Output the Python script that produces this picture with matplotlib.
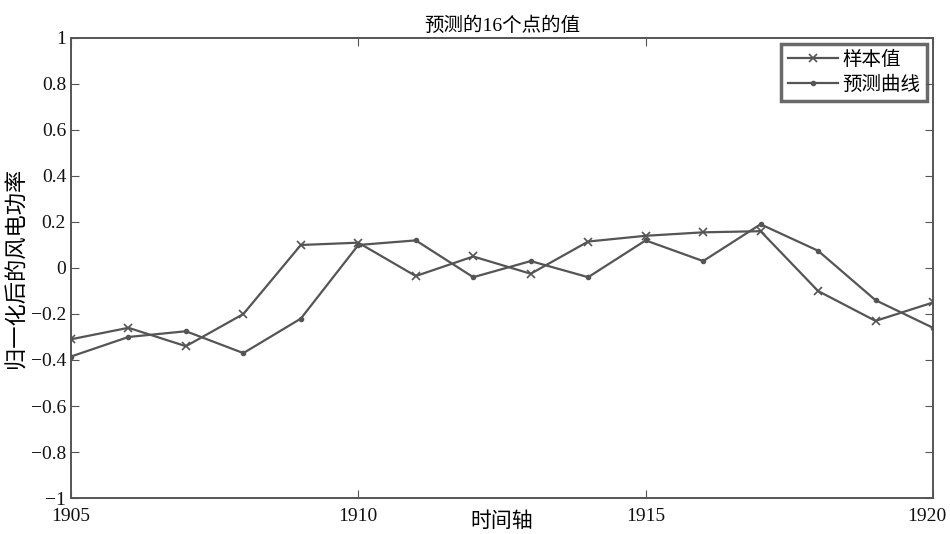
import matplotlib
matplotlib.use("Agg")
import matplotlib.pyplot as plt
import matplotlib.transforms as mtransforms

plt.rcParams['font.family'] = ['Liberation Serif', 'Noto Sans CJK SC']

years = list(range(1905, 1921))
sample = [-0.31, -0.26, -0.34, -0.20, 0.10, 0.11, -0.035, 0.05,
          -0.025, 0.115, 0.14, 0.155, 0.16, -0.10, -0.23, -0.15]
predicted = [-0.385, -0.30, -0.275, -0.37, -0.22, 0.10, 0.12, -0.04,
             0.03, -0.04, 0.12, 0.03, 0.19, 0.075, -0.14, -0.26]

line_color = "#555555"

fig = plt.figure(figsize=(9.5, 5.34), dpi=100)
ax = fig.add_axes([0.0747, 0.0674, 0.9074, 0.8615])

ax.plot(years, sample, color=line_color, linewidth=1.6, marker="x",
        markersize=6, markeredgewidth=1.2, label="样本值")
ax.plot(years, predicted, color=line_color, linewidth=1.6, marker=".",
        markersize=6, label="预测曲线")

ax.set_xlim(1905, 1920)
ax.set_ylim(-1, 1)
ax.set_xticks([1905, 1910, 1915, 1920])
ax.set_yticks([-1, -0.8, -0.6, -0.4, -0.2, 0, 0.2, 0.4, 0.6, 0.8, 1])
ax.set_yticklabels(["−1", "−0.8", "−0.6", "−0.4", "−0.2", "0",
                    "0.2", "0.4", "0.6", "0.8", "1"])
ax.tick_params(direction="in", top=True, right=True, length=6,
               color=line_color, labelsize=14, labelcolor="#111111")
ax.tick_params(axis="x", pad=7)
for s in ax.spines.values():
    s.set_color(line_color)
    s.set_linewidth(1.4)

# keep the last x label inside the figure
last = ax.get_xticklabels()[-1]
last.set_transform(last.get_transform() +
                   mtransforms.ScaledTranslation(-6 / 100, 0, fig.dpi_scale_trans))

ax.set_title("预测的16个点的值", fontsize=14, pad=5)
ax.set_xlabel("时间轴", fontsize=15, labelpad=-9)
ax.set_ylabel("归一化后的风电功率", fontsize=16, labelpad=2)

leg = ax.legend(loc="upper right", fancybox=False, fontsize=14,
                borderaxespad=0.3, handlelength=2.6, labelspacing=0.35,
                borderpad=0.35, handletextpad=0.2)
leg.get_frame().set_edgecolor("#444444")
leg.get_frame().set_linewidth(2.5)

fig.savefig("out.png", dpi=100)
